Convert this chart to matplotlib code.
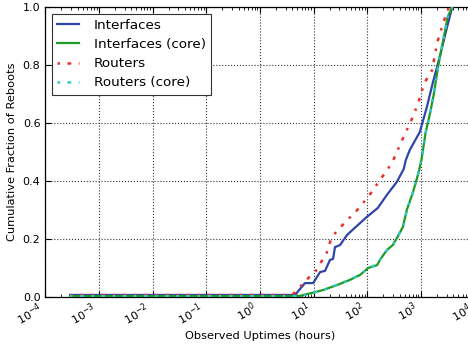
import numpy as np
import matplotlib
matplotlib.use("Agg")
import matplotlib.pyplot as plt
from matplotlib.ticker import LogLocator, NullFormatter, FixedLocator

# ---- data (hours, cumulative fraction) ----
int_x = [2.9e-4, 4.5, 6.9, 9.8, 13.2, 16.3, 20.2, 23, 25, 31, 42, 64, 98, 157,
         232, 356, 477, 522, 620, 952, 1290, 1660, 2240, 3070, 3830]
int_y = [0.007, 0.007, 0.048, 0.048, 0.086, 0.090, 0.128, 0.131, 0.172, 0.179,
         0.214, 0.245, 0.276, 0.307, 0.352, 0.397, 0.441, 0.472, 0.507, 0.569,
         0.655, 0.738, 0.828, 0.931, 1.0]

rt_x = [2.9e-4, 4.0, 5.3, 7.0, 11.0, 17.5, 21.4, 26.2, 39.2, 65, 104, 189,
        289, 445, 640, 864, 1160, 1620, 2000, 2630, 3340, 3810]
rt_y = [0.007, 0.007, 0.031, 0.055, 0.090, 0.152, 0.203, 0.224, 0.259, 0.300,
        0.345, 0.414, 0.462, 0.541, 0.603, 0.662, 0.738, 0.783, 0.876, 0.948, 1.0, 1.0]

core_x = [2.9e-4, 5.3, 9.8, 15.0, 27.0, 47.5, 73, 104, 153, 172, 232, 298, 356,
          460, 545, 705, 900, 1020, 1220, 1480, 1740, 2080, 2590, 3150, 3830]
core_y = [0.003, 0.003, 0.015, 0.024, 0.041, 0.059, 0.076, 0.100, 0.110, 0.128,
          0.162, 0.179, 0.203, 0.241, 0.300, 0.359, 0.428, 0.472, 0.566, 0.634,
          0.700, 0.793, 0.883, 0.966, 1.0]

rcore_x = [2.9e-4, 5.3, 10.0, 15.5, 27.5, 48, 74, 105, 150, 175, 235, 300, 360,
           465, 550, 710, 905, 1030, 1230, 1490, 1750, 2090, 2600, 3160, 3850]
rcore_y = [0.003, 0.003, 0.015, 0.025, 0.042, 0.060, 0.077, 0.100, 0.112, 0.130,
           0.163, 0.181, 0.205, 0.243, 0.302, 0.362, 0.430, 0.474, 0.568, 0.636,
           0.702, 0.795, 0.885, 0.967, 1.0]

labels = ["Interfaces", "Interfaces (core)", "Routers", "Routers (core)"]
xticks = [1e-4, 1e-3, 1e-2, 1e-1, 1e0, 1e1, 1e2, 1e3, 1e4]
xticklabels = [r"$10^{-4}$", r"$10^{-3}$", r"$10^{-2}$", r"$10^{-1}$", r"$10^{0}$",
               r"$10^{1}$", r"$10^{2}$", r"$10^{3}$", r"$10^{4}$"]
yticks = [0.0, 0.2, 0.4, 0.6, 0.8, 1.0]

plt.rcParams['mathtext.default'] = 'regular'
plt.rcParams['font.family'] = 'DejaVu Sans'

fig = plt.figure(figsize=(4.68, 3.46), dpi=100)
ax = fig.add_axes([45.3/468, 49/346, (474.6-45.3)/468, 290/346])

ax.plot(int_x, int_y, color='#2f45a8', lw=1.6, label=labels[0], zorder=3)
ax.plot(core_x, core_y, color='#1f9a22', lw=1.6, label=labels[1], zorder=3)
ax.plot(rt_x, rt_y, color='#e8302a', lw=1.8, ls=(0, (1, 3, 1.5, 3)), label=labels[2], zorder=4)
ax.plot(rcore_x, rcore_y, color='#30c8c8', lw=1.8, ls=(0, (1, 3, 1.5, 3)), label=labels[3], zorder=4)

ax.set_xscale('log')
ax.set_xlim(1e-4, 1e4)
ax.set_ylim(0, 1.0)
ax.xaxis.set_major_locator(FixedLocator(xticks))
ax.set_xticklabels(xticklabels, rotation=30, ha='right', fontsize=8)
ax.xaxis.set_minor_locator(LogLocator(base=10, subs=np.arange(2, 10), numticks=20))
ax.xaxis.set_minor_formatter(NullFormatter())
ax.set_yticks(yticks)
ax.set_yticklabels([f"{v:.1f}" for v in yticks], fontsize=8)

ax.tick_params(which='both', direction='in', top=True, right=True)
ax.tick_params(which='major', length=4, width=0.8)
ax.tick_params(which='minor', length=2, width=0.6)
ax.tick_params(axis='x', which='major', pad=2)

ax.grid(True, which='major', ls=':', color='#333333', lw=0.8)
ax.set_axisbelow(True)

ax.set_xlabel("Observed Uptimes (hours)", fontsize=8.2, labelpad=2)
ax.set_ylabel("Cumulative Fraction of Reboots", fontsize=8.2, labelpad=4)

leg = ax.legend(loc='upper left', fontsize=9.7, fancybox=False, framealpha=1,
                edgecolor='#333333', handlelength=1.6, borderaxespad=0.5,
                labelspacing=0.45, handletextpad=1.1, borderpad=0.4)
leg.get_frame().set_linewidth(0.8)

for s in ax.spines.values():
    s.set_linewidth(0.9)

fig.savefig("out.png", dpi=100)
